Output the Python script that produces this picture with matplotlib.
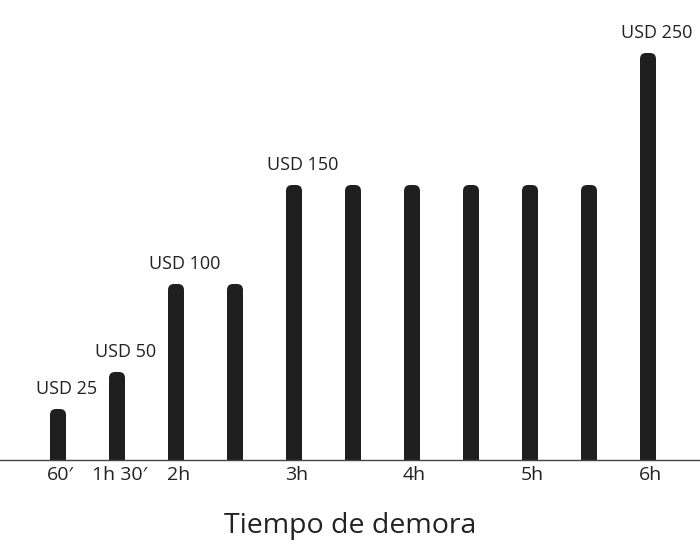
import matplotlib
matplotlib.use("Agg")
import matplotlib.pyplot as plt
import matplotlib.transforms as mtransforms
from matplotlib.patches import FancyBboxPatch

# Data
tick_labels = ["60′", "1h 30′", "2h", "", "3h", "", "4h", "", "5h", "", "6h"]
heights = [51, 88, 176, 176, 275, 275, 275, 275, 275, 275, 407]
price_labels = ["USD 25", "USD 50", "USD 100", "", "USD 150", "", "", "", "", "", "USD 250"]
xlabel = "Tiempo de demora"

plt.rcParams["font.family"] = ["Open Sans", "DejaVu Sans"]
W, H = 700, 556
fig = plt.figure(figsize=(W / 100, H / 100), dpi=100)
base = 460
ax = fig.add_axes([0, (H - base) / H, 1, base / H])

step = 59.0
x0 = 58.0
ax.set_xlim(-x0 / step, (W - x0) / step)
ax.set_ylim(0, base)

bar_color = "#1f1f1f"
width = 16 / step
xs = list(range(len(heights)))
bars = ax.bar(xs, heights, width=width, color="none")
r = 6 / step
for b in bars:
    x = b.get_x()
    h = b.get_height()
    p = FancyBboxPatch((x, -20), width, h + 20,
                       boxstyle=f"round,pad=0,rounding_size={r}",
                       mutation_aspect=step, facecolor=bar_color,
                       edgecolor="none", clip_on=True)
    ax.add_patch(p)

for x, h, lab in zip(xs, heights, price_labels):
    if lab:
        ax.annotate(lab, (x, h), xytext=(6, 11), textcoords="offset points",
                    ha="center", va="baseline", fontsize=13, color="#222222")

ax.set_xticks(xs)
ax.set_xticklabels(tick_labels, fontsize=14, color="#222222")
ax.tick_params(axis="x", length=0, pad=4.5)
shift = mtransforms.ScaledTranslation(2.5 / 100, 0, fig.dpi_scale_trans)
for lbl in ax.get_xticklabels():
    lbl.set_transform(lbl.get_transform() + shift)
ax.set_yticks([])
for s in ["top", "right", "left"]:
    ax.spines[s].set_visible(False)
ax.spines["bottom"].set_color("#444444")
ax.spines["bottom"].set_linewidth(1.0)
ax.patch.set_alpha(0)

fig.text(0.5, 1 - 533 / H, xlabel, ha="center", va="baseline",
         fontsize=20.5, color="#222222")

fig.savefig("out.png", dpi=100, facecolor="white")
